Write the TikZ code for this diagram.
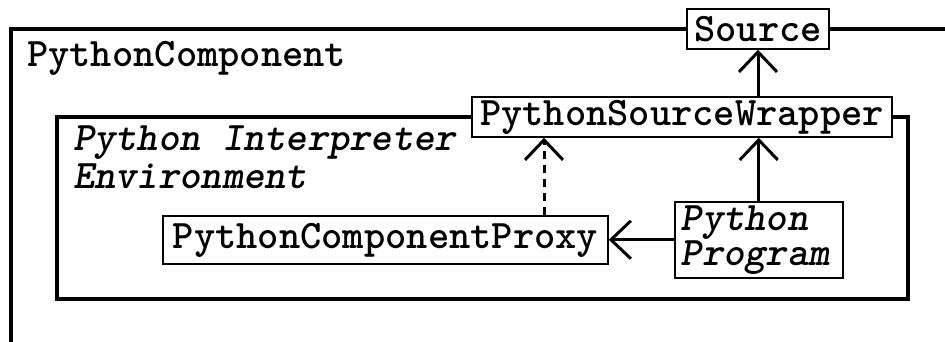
\documentclass[tikz,border=0pt]{standalone}
\usepackage{fontspec}
\usetikzlibrary{arrows.meta}
\begin{document}
\begin{tikzpicture}[x=1pt,y=-1pt,
  every node/.style={font=\ttfamily\bfseries\fontsize{40.5}{35}\selectfont},
  box/.style={draw,line width=1.5pt,fill=white,inner sep=0pt},
  frame/.style={line width=3.5pt},
  arr/.style={line width=3pt,-{Straight Barb[length=20pt,width=38pt,line width=3pt]}},
  lbl/.style={anchor=base west,inner sep=0pt},
  itl/.style={font=\ttfamily\bfseries\itshape\fontsize{40.5}{35}\selectfont},
]
\useasboundingbox (0,0) rectangle (945,342);
% outer component frame
\draw[frame] (11,360) -- (11,29) -- (960,29);
\node[lbl] (title) at (27,67) {PythonComponent};
% inner interpreter environment frame
\draw[frame] (57,117) rectangle (908,299);
\node[lbl,itl] (env1) at (73,150) {Python Interpreter};
\node[lbl,itl] (env2) at (73,188) {Environment};
% boxes
\node[box,minimum width=142,minimum height=40] (src) at (758,29) {Source};
\node[box,minimum width=420,minimum height=40] (psw) at (682,117) {PythonSourceWrapper};
\node[box,minimum width=445,minimum height=48] (proxy) at (385.5,240) {PythonComponentProxy};
\node[box,itl,anchor=north west,minimum width=168,minimum height=76,
      text width=156,inner xsep=6,align=left] (pp) at (674,201) {Python\\Program};
% connectors
\draw[arr] (psw.north -| src.south) -- (src.south);
\draw[arr] (pp.north) -- (pp.north |- psw.south);
\coordinate (dx) at (544,0);
\draw[arr,dash pattern=on 8pt off 6pt] (proxy.north -| dx) -- (psw.south -| dx);
\draw[arr] (pp.west) -- (pp.west -| proxy.east);
\end{tikzpicture}
\end{document}
